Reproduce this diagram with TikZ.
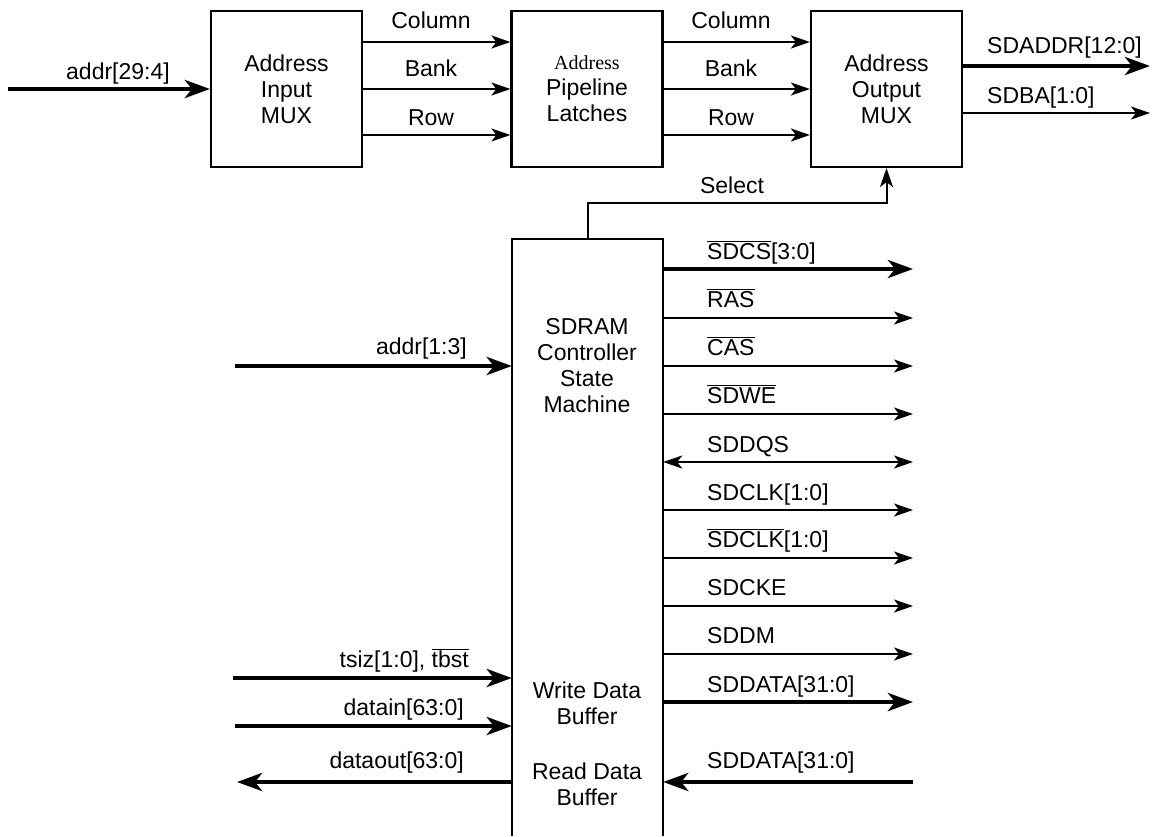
\documentclass[tikz,border=0pt]{standalone}
\usepackage{fontspec}
\setmainfont{Liberation Sans}
\newfontfamily\serifaddr{Liberation Serif}
\usetikzlibrary{arrows.meta}
\newcommand\ovl[1]{$\overline{\mbox{#1}}$}
\begin{document}
\begin{tikzpicture}[x=1pt,y=-1pt,
  every node/.style={font=\fontsize{23}{26}\selectfont},
  blk/.style={draw, line width=2.2pt, minimum width=151pt, minimum height=156pt, align=center, inner sep=0pt},
  thinhead/.tip={Stealth[length=19pt,width=13pt,inset=5pt]},
  thickhead/.tip={Stealth[length=25pt,width=18pt,inset=7pt]},
  sigthin/.style={line width=2pt, -thinhead},
  sigboth/.style={line width=2pt, thinhead-thinhead},
  sigthick/.style={line width=4.5pt, -thickhead},
  lbl/.style={inner sep=0pt, anchor=base west},
  lblr/.style={inner sep=0pt, anchor=base east},
  lblc/.style={inner sep=0pt, anchor=base},
]
\useasboundingbox (0,0) rectangle (1161,836);

% top row blocks
\node[blk] (imux) at (286.5,89) {Address\\Input\\MUX};
\node[blk] (latch) at (587,89) {{\serifaddr\fontsize{20}{26}\selectfont Address}\\Pipeline\\Latches};
\node[blk] (omux) at (886.5,89) {Address\\Output\\MUX};

% controller block (open at the bottom)
\node[minimum width=151pt, minimum height=597pt, inner sep=0pt] (ctl) at (587.5,537.5) {};
\draw[line width=2.2pt] (ctl.south west) -- (ctl.north west) -- (ctl.north east) -- (ctl.south east);
\node[align=center] (sm) at (587,366) {SDRAM\\Controller\\State\\Machine};
\node[align=center] (wdb) at (587,703) {Write Data\\Buffer};
\node[align=center] (rdb) at (587,784) {Read Data\\Buffer};

% address input
\coordinate (ain) at (8,89);
\draw[sigthick] (ain) -- (imux.west);
\node[lblc] at (118,79) {addr[29:4]};

% between blocks
\foreach \y/\t/\b in {42/Column/28, 89/Bank/76, 135/Row/125}{
  \draw[sigthin] (imux.east |- 0,\y) -- (latch.west |- 0,\y);
  \draw[sigthin] (latch.east |- 0,\y) -- (omux.west |- 0,\y);
  \node[lblc] at (431,\b) {\t};
  \node[lblc] at (731,\b) {\t};
}

% address outputs
\coordinate (sda) at (1150,66);
\coordinate (sba) at (1150,113);
\draw[sigthick] (omux.east |- sda) -- (sda);
\draw[sigthin] (omux.east |- sba) -- (sba);
\node[lbl] at (987,53) {SDADDR[12:0]};
\node[lbl] at (987,103) {SDBA[1:0]};

% select
\draw[sigthin] (ctl.north) -- ++(0,-36) -| (omux.south);
\node[lblc] at (732,193) {Select};

% right side signals
\coordinate (r1) at (913,269);
\coordinate (r2) at (913,318);
\coordinate (r3) at (913,366);
\coordinate (r4) at (913,414);
\coordinate (r5) at (913,462);
\coordinate (r6) at (913,510);
\coordinate (r7) at (913,558);
\coordinate (r8) at (913,606);
\coordinate (r9) at (913,654);
\coordinate (r10) at (913,702);
\coordinate (r11) at (913,782);
\draw[sigthick] (ctl.east |- r1) -- (r1);
\draw[sigthin] (ctl.east |- r2) -- (r2);
\draw[sigthin] (ctl.east |- r3) -- (r3);
\draw[sigthin] (ctl.east |- r4) -- (r4);
\draw[sigboth] (ctl.east |- r5) -- (r5);
\draw[sigthin] (ctl.east |- r6) -- (r6);
\draw[sigthin] (ctl.east |- r7) -- (r7);
\draw[sigthin] (ctl.east |- r8) -- (r8);
\draw[sigthin] (ctl.east |- r9) -- (r9);
\draw[sigthick] (ctl.east |- r10) -- (r10);
\draw[sigthick] (r11) -- (ctl.east |- r11);
\node[lbl] at (707,259) {\ovl{SDCS}[3:0]};
\node[lbl] at (707,307) {\ovl{RAS}};
\node[lbl] at (707,355) {\ovl{CAS}};
\node[lbl] at (707,403) {\ovl{SDWE}};
\node[lbl] at (707,452) {SDDQS};
\node[lbl] at (707,500) {SDCLK[1:0]};
\node[lbl] at (707,547) {\ovl{SDCLK}[1:0]};
\node[lbl] at (707,595) {SDCKE};
\node[lbl] at (707,643) {SDDM};
\node[lbl] at (707,692) {SDDATA[31:0]};
\node[lbl] at (707,768) {SDDATA[31:0]};

% left side signals
\coordinate (l1) at (235,366);
\coordinate (l2) at (233,678);
\coordinate (l3) at (235,726);
\coordinate (l4) at (237,782);
\draw[sigthick] (l1) -- (ctl.west |- l1);
\draw[sigthick] (l2) -- (ctl.west |- l2);
\draw[sigthick] (l3) -- (ctl.west |- l3);
\draw[sigthick] (ctl.west |- l4) -- (l4);
\node[lblr] at (467,354) {addr[1:3]};
\node[lblr] at (469,667) {tsiz[1:0], \ovl{tbst}};
\node[lblr] at (464,715) {datain[63:0]};
\node[lblr] at (464,768) {dataout[63:0]};
\end{tikzpicture}
\end{document}
